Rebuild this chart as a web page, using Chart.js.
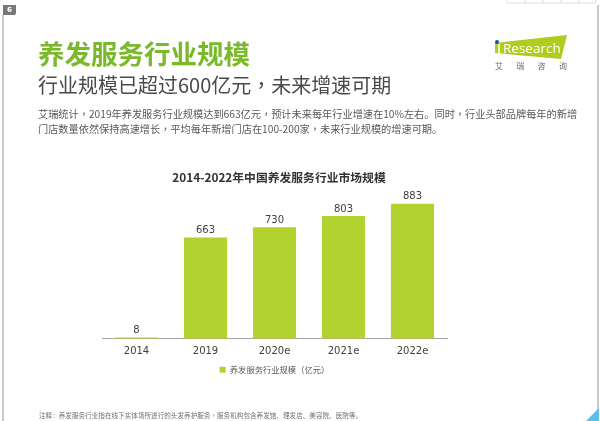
<!DOCTYPE html>
<html>
<head>
<meta charset="utf-8">
<script src="https://cdn.jsdelivr.net/npm/chart.js@4"></script>
<style>
    html, body { margin: 0; padding: 0; background: #fff; }
    body { width: 600px; height: 421px; position: relative; overflow: hidden; font-family: "Noto Sans CJK SC", sans-serif; }
    #market-chart { position: absolute; left: 0; top: 0; width: 600px; height: 421px; }
    .txt { position: absolute; white-space: nowrap; }
    .tc { font-family: "Noto Sans CJK TC"; }
    #page-no { left: 3px; top: 5px; width: 13px; height: 10px; background: #777; color: #fff; font: bold 7px "DejaVu Sans"; line-height: 10px; text-align: center; border-radius: 0 0 2px 0; }
    #head { left: 38px; top: 34px; font-size: 26.5px; line-height: 38px; font-weight: 700; color: #7ab929; }
    #sub { left: 38px; top: 71px; font-size: 20px; line-height: 28px; color: #4a4a4a; }
    #body-text { left: 38px; top: 106px; font-size: 10.2px; line-height: 15px; color: #595959; }
    #note { left: 39px; top: 410px; font-size: 6.6px; line-height: 11px; color: #6f6f6f; }
    #brand { left: 495px; top: 60px; font-size: 8px; line-height: 12px; color: #6a6a6a; word-spacing: 11.5px; }
    #chart-title { left: 79px; width: 400px; text-align: center; top: 169px; font-size: 11.8px; line-height: 16px; font-weight: 700; color: #333; }
    #frame-left { position: absolute; left: 2px; top: 15px; width: 2px; height: 406px; background: #c9c9c9; }
    #frame-right { position: absolute; left: 597px; top: 5px; width: 1.5px; height: 416px; background: #c9c9c9; }
    #logo { position: absolute; left: 490px; top: 30px; }
</style>
</head>
<body>
<canvas id="market-chart" width="600" height="421"></canvas>
<div id="frame-left"></div>
<div id="frame-right"></div>
<div class="txt" id="page-no">6</div>
<div class="txt" id="head">养发服务行业规模</div>
<div class="txt" id="sub">行业规模已超过600亿元<span class="tc">，</span>未来增速可期</div>
<div class="txt" id="body-text">艾瑞统计<span class="tc">，</span>2019年养发服务行业规模达到663亿元<span class="tc">，</span>预计未来每年行业增速在10%左右。同时<span class="tc">，</span>行业头部品牌每年的新增<br>门店数量依然保持高速增长<span class="tc">，</span>平均每年新增门店在100-200家<span class="tc">，</span>未来行业规模的增速可期。</div>
<div class="txt" id="note">注释：养发服务行业指在线下实体场所进行的头发养护服务<span class="tc">，</span>服务机构包含养发馆、理发店、美容院、医院等。</div>
<div class="txt" id="chart-title"></div>
<svg id="logo" width="82" height="32">
    <polygon points="5,13 77,5 71,29 5,23" fill="#b1cc1f"/>
    <line x1="9" y1="14" x2="9" y2="24" stroke="#fff" stroke-width="1.5"/>
    <circle cx="7" cy="12" r="2" fill="#1a4f9c"/>
    <text x="13" y="23" font-family="Open Sans" font-size="13.5" fill="#fff">Research</text>
</svg>
<div class="txt" id="brand">艾 瑞 咨 询</div>
<svg style="position:absolute;left:0;top:0" width="600" height="421">
    <polygon points="599,408 599,421 586,421" fill="#5bc0e8"/>
    <path d="M507,0V3H596V0M525,0V3M543,0V3M561,0V3M579,0V3" fill="none" stroke="#ddd" stroke-width="1"/>
</svg>
<script>
const chartTitle = '2014-2022年中国养发服务行业市场规模';
const seriesName = '养发服务行业规模（亿元）';
const years = ['2014', '2019', '2020e', '2021e', '2022e'];
const marketSize = [8, 663, 730, 803, 883];

document.getElementById('chart-title').textContent = chartTitle;

// подписи над столбцами
const valueLabels = {
    id: 'valueLabels',
    afterDatasetsDraw(chart) {
        const { ctx } = chart;
        const meta = chart.getDatasetMeta(0);
        ctx.save();
        ctx.font = '10px "DejaVu Sans"';
        ctx.fillStyle = '#404040';
        ctx.textAlign = 'center';
        meta.data.forEach((bar, i) => {
            ctx.fillText(marketSize[i], bar.x, bar.y - 7);
        });
        ctx.restore();
    }
};

new Chart(document.getElementById('market-chart'), {
    type: 'bar',
    data: {
        labels: years,
        datasets: [{
            label: seriesName,
            data: marketSize,
            backgroundColor: '#b1d22f',
            categoryPercentage: 1,
            barPercentage: 0.625
        }]
    },
    options: {
        responsive: false,
        animation: false,
        layout: { padding: { left: 102, right: 153, top: 186, bottom: 37 } },
        plugins: {
            legend: {
                display: true,
                position: 'bottom',
                labels: {
                    boxWidth: 6,
                    boxHeight: 6,
                    padding: 1,
                    color: '#595959',
                    font: { family: '"Noto Sans CJK SC"', size: 8.3 }
                }
            },
            tooltip: { enabled: false }
        },
        scales: {
            x: {
                grid: { display: false, drawTicks: false },
                border: { color: '#a6a6a6', width: 1 },
                ticks: { color: '#404040', padding: 7, font: { family: '"DejaVu Sans"', size: 10 } }
            },
            y: {
                display: false,
                min: 0,
                max: 1000
            }
        }
    },
    plugins: [valueLabels]
});
</script>
</body>
</html>
